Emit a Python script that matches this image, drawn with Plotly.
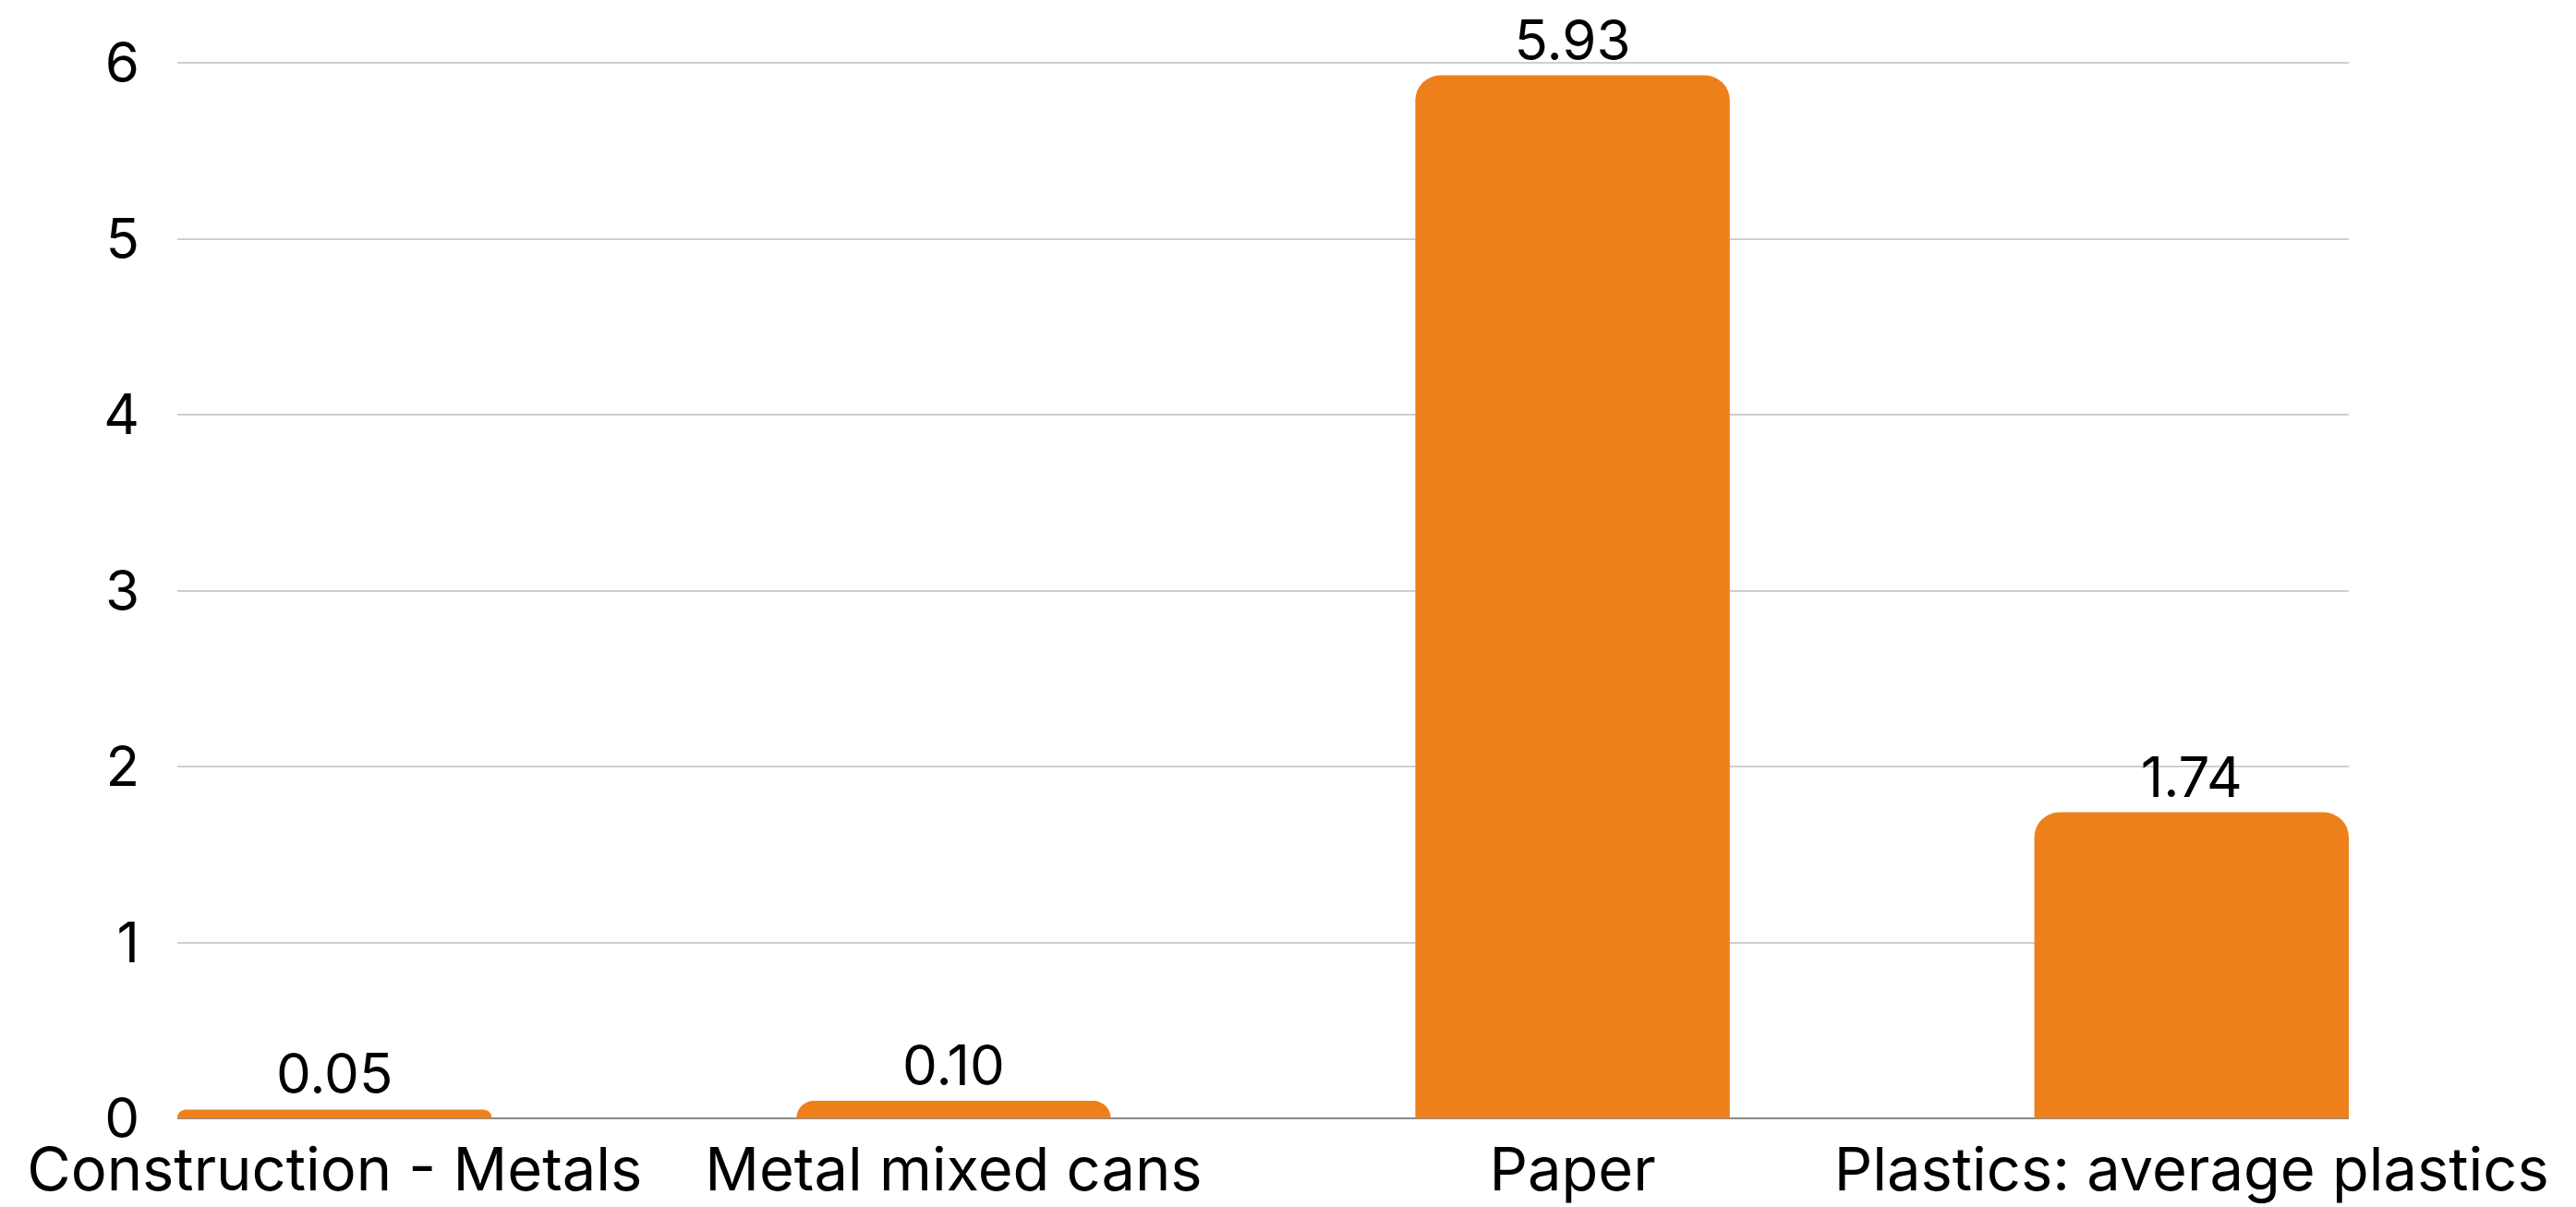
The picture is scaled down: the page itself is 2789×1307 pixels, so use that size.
import plotly.graph_objects as go

# Emission factors by material
categories = ["Construction - Metals", "Metal mixed cans", "Paper", "Plastics: average plastics"]
values = [0.05, 0.10, 5.93, 1.74]
value_labels = ["0.05", "0.10", "5.93", "1.74"]
y_ticks = [0, 1, 2, 3, 4, 5, 6]

BAR_COLOR = "#EE801C"
FONT = "Inter"

fig = go.Figure(
    go.Bar(
        x=categories,
        y=values,
        text=value_labels,
        textposition="outside",
        cliponaxis=False,
        textfont=dict(family=FONT, size=60, color="#000000"),
        marker=dict(color=BAR_COLOR, line=dict(width=0)),
        width=0.508,
    )
)

fig.update_layout(
    width=2789,
    height=1307,
    margin=dict(l=192, r=246, t=66, b=96, autoexpand=False),
    paper_bgcolor="white",
    plot_bgcolor="white",
    showlegend=False,
    barcornerradius=27,
    font=dict(family=FONT, size=60, color="#000000"),
    xaxis=dict(
        range=[-0.254, 3.254],
        showgrid=False,
        showline=False,
        ticks="",
        automargin=False,
        ticklabelstandoff=12,
        tickfont=dict(family=FONT, size=65, color="#000000"),
        fixedrange=True,
    ),
    yaxis=dict(
        range=[0, 6.012],
        tickvals=y_ticks,
        ticktext=[str(t) for t in y_ticks],
        showgrid=True,
        gridcolor="#cfcfcf",
        gridwidth=2,
        zeroline=True,
        zerolinecolor="#8a8a8a",
        zerolinewidth=2,
        showline=False,
        ticks="",
        automargin=False,
        ticklabelstandoff=40,
        tickfont=dict(family=FONT, size=60, color="#000000"),
        fixedrange=True,
    ),
)

fig.write_html("out.html")
